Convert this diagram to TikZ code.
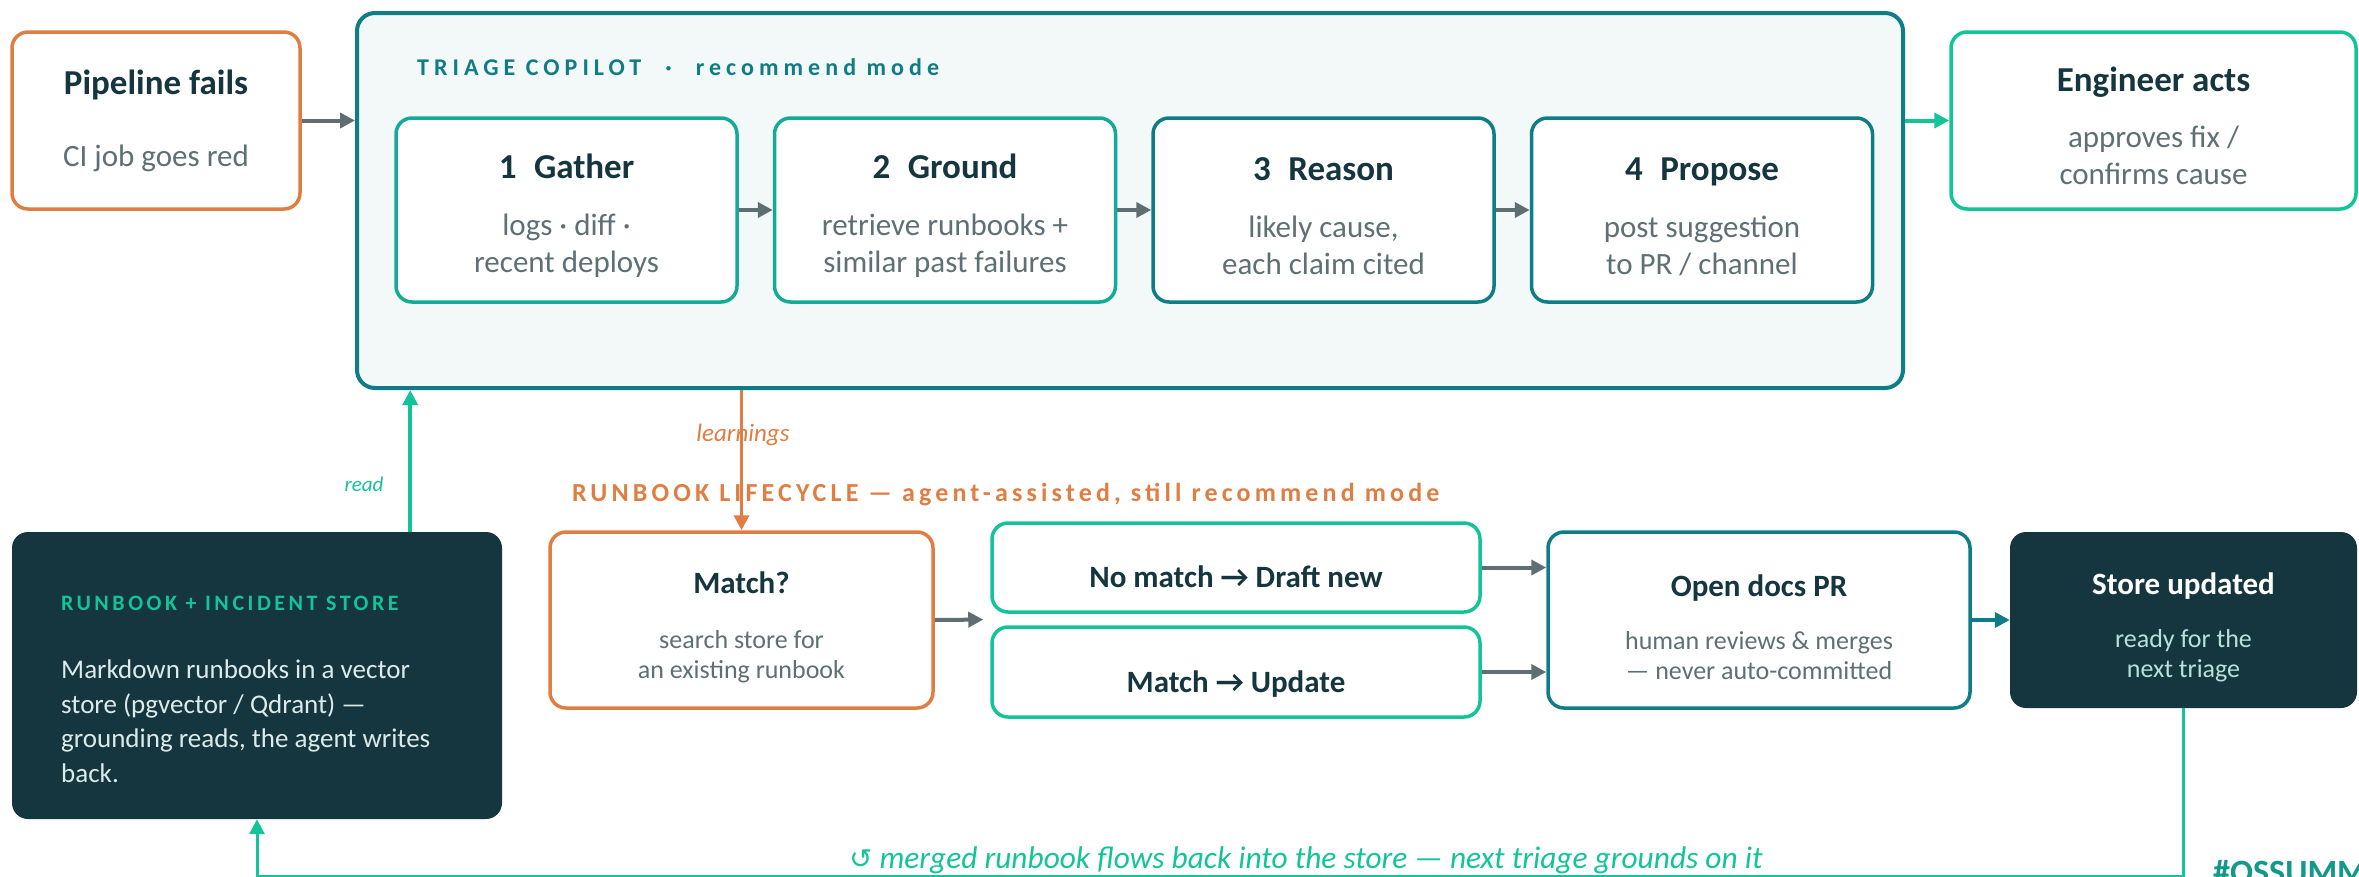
\documentclass[tikz,border=0pt]{standalone}
\usepackage{fontspec}
\setmainfont{Carlito}
\newfontfamily\symfont{DejaVu Sans}
\newfontfamily\capsA[LetterSpace=21]{Carlito}
\newfontfamily\capsB[LetterSpace=16]{Carlito}
\usepackage{tikz}
\usetikzlibrary{arrows.meta,positioning,calc}

\definecolor{ink}{HTML}{15363E}
\definecolor{slate}{HTML}{5E7075}
\definecolor{rust}{HTML}{E07D42}
\definecolor{cTeal}{HTML}{0E7D87}
\definecolor{cMint}{HTML}{12C498}
\definecolor{cSea}{HTML}{13AB96}
\definecolor{cArrow}{HTML}{5F6E73}
\definecolor{cPanel}{HTML}{F3F8F8}
\definecolor{cPale}{HTML}{DCEBEA}
\definecolor{cPaleMint}{HTML}{B5E3D8}
\definecolor{cOss}{HTML}{12998A}

\newcommand{\ttlA}{\fontsize{35}{42}\selectfont\bfseries\color{ink}}
\newcommand{\subA}{\fontsize{31}{37}\selectfont}
\newcommand{\ttlB}{\fontsize{31}{37}\selectfont\bfseries\color{ink}}
\newcommand{\subB}{\fontsize{26}{30}\selectfont}
\newcommand{\padtop}[1]{\rule{0pt}{#1}}

\begin{document}
\begin{tikzpicture}[x=1pt,y=-1pt,
    box/.style={draw,line width=3.5pt,rounded corners=16pt,fill=white,align=center,inner sep=0pt,font=\subA,text=slate},
    stepbox/.style={box,minimum width=341,minimum height=184},
    pickbox/.style={box,draw=cMint,minimum width=488,text height=40pt,text depth=0pt},
    darkbox/.style={fill=ink,rounded corners=16pt,align=center,inner sep=0pt},
    link/.style={draw=cArrow,line width=4pt,-{Triangle[length=15pt,width=15pt]}},
    lbl/.style={inner sep=0pt}]
    \useasboundingbox (0,0) rectangle (2359,876);

    % triage row
    \node[box,draw=rust,minimum width=288,minimum height=177] (fail) at (156,120.5) {{\ttlA Pipeline fails}\\[35pt]CI job goes red};
    \node[box,draw=cTeal,fill=cPanel,line width=4pt,rounded corners=18pt,minimum width=1546,minimum height=375] (triage) at (1130,200.5) {};
    \node[lbl,anchor=west,text=cTeal,font=\capsA\fontsize{24}{28}\selectfont\bfseries] (triageT) at (417,67) {TRIAGE COPILOT\hspace{24pt}·\hspace{24pt}recommend mode};
    \foreach \i/\ttl/\sa/\sb/\col in {1/Gather/{logs · diff ·}/{recent deploys}/cSea,
        2/Ground/{retrieve runbooks +}/{similar past failures}/cSea,
        3/Reason/{likely cause,}/{each claim cited}/cTeal,
        4/Propose/{post suggestion}/{to PR / channel}/cTeal} {
      \node[stepbox,draw=\col] (step\i) at ({566.5+378.5*(\i-1)},210) {{\ttlA\padtop{36pt}\i\enspace\ttl}\\[20pt]\sa\\\sb};
    }
    \foreach \i in {1,2,3} {
      \draw[link] (step\i.east) -- (step\the\numexpr\i+1\relax.west);
    }
    \node[box,draw=cMint,minimum width=405,minimum height=177] (eng) at (2153.5,120.5) {{\ttlA\padtop{36pt}Engineer acts}\\[19pt]approves fix /\\confirms cause};
    \draw[link] (fail.east) -- (fail.east -| triage.west);
    \draw[link,draw=cMint] (triage.east |- eng.west) -- (eng.west);

    % store + lifecycle row
    \node[darkbox,minimum width=490,minimum height=287] (store) at (257,675.5) {};
    \node[lbl,anchor=west,text=cMint,font=\capsB\fontsize{22}{26}\selectfont\bfseries] (storeT) at (61,603) {RUNBOOK + INCIDENT STORE};
    \node[lbl,anchor=north west,align=left,text=cPale,font=\fontsize{27}{34.5}\selectfont] (storeB) at (61,660) {Markdown runbooks in a vector\\store (pgvector / Qdrant) —\\grounding reads, the agent writes\\back.};
    \node[lbl,text=cMint,font=\fontsize{21}{25}\selectfont\itshape] (readT) at (364,484) {read};
    \node[lbl,text=rust,font=\fontsize{25}{30}\selectfont\itshape] (learnT) at (743,435) {learnings};
    \node[lbl,anchor=west,text=rust,font=\capsB\fontsize{26}{30}\selectfont\bfseries] (lifeT) at (572,495) {RUNBOOK LIFECYCLE — agent-assisted, still recommend mode};
    \node[box,draw=rust,minimum width=383,minimum height=176,font=\subB] (match) at (741.5,620) {{\ttlB\padtop{36pt}Match?}\\[25pt]search store for\\an existing runbook};
    \node[pickbox,minimum height=89] (nomatch) at (1236,567.5) {\ttlB No match → Draft new};
    \node[pickbox,minimum height=90] (update) at (1236,672) {\ttlB Match → Update};
    \node[box,draw=cTeal,minimum width=422,minimum height=176,font=\subB] (docpr) at (1759,620) {{\ttlB\padtop{36pt}Open docs PR}\\[23pt]human reviews \& merges\\— never auto-committed};
    \node[darkbox,minimum width=347,minimum height=176,text=cPaleMint,font=\subB] (stored) at (2183.5,620) {{\ttlB\color{white}\padtop{36pt}Store updated}\\[23pt]ready for the\\next triage};

    \coordinate (rd) at ($(store.north east)+(-92,0)$);
    \draw[link,draw=cMint,line width=3.5pt] (rd) -- (rd |- triage.south);
    \draw[link,draw=rust,line width=3.5pt] (triage.south -| match.north) -- (match.north);
    \coordinate (fork) at ($(nomatch.south west)!0.5!(update.north west)$);
    \draw[link,shorten >=7pt] (match.east) -- (fork);
    \draw[link] (nomatch.east) -- (nomatch.east -| docpr.west);
    \draw[link] (update.east) -- (update.east -| docpr.west);
    \draw[link,draw=cTeal] (docpr.east) -- (stored.west);

    % loop back into the store
    \coordinate (loopy) at (0,876);
    \draw[link,draw=cMint,line width=3pt] (stored.south) -- (stored.south |- loopy) -| (store.south);
    \node[lbl,text=cMint,font=\fontsize{31.4}{37}\selectfont\itshape] (loopT) at (1306,860) {{\symfont\fontsize{27.5}{32}\selectfont ↺}\ merged runbook flows back into the store — next triage grounds on it};
    \node[lbl,anchor=base west,text=cOss,font=\fontsize{34}{40}\selectfont\bfseries] (tag) at (2213,883) {\#OSSUMMIT};
\end{tikzpicture}
\end{document}
